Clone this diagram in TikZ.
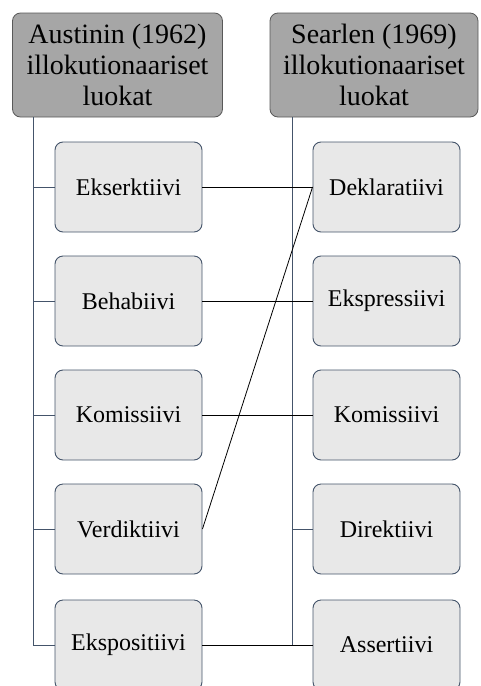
\documentclass[tikz,border=0pt]{standalone}
\usepackage{fontspec}
\setmainfont{Liberation Serif}
\begin{document}
\begin{tikzpicture}[x=1pt,y=-1pt,
  head/.style={draw=gray!70!black, fill=black!35, rounded corners=8pt, minimum width=210pt, minimum height=104pt, align=center, font=\fontsize{28}{31}\selectfont, inner sep=2pt, line width=0.8pt},
  item/.style={draw=trunkc, fill=black!9, rounded corners=8pt, minimum width=147pt, minimum height=90pt, font=\fontsize{24}{28}\selectfont, line width=0.9pt},
  trunk/.style={draw=trunkc, line width=0.9pt},
  link/.style={draw=black, line width=0.8pt}]
\definecolor{trunkc}{HTML}{44546A}
\useasboundingbox (0,0) rectangle (480,686);
\node[head] (hA) at (117.5,65) {Austinin (1962)\\illokutionaariset\\luokat};
\node[head, minimum width=208pt] (hS) at (374,65) {Searlen (1969)\\illokutionaariset\\luokat};
\node[item] (a1) at (128.5,187) {Ekserktiivi};
\node[item] (a2) at (128.5,301) {Behabiivi};
\node[item] (a3) at (128.5,415) {Komissiivi};
\node[item] (a4) at (128.5,529) {Verdiktiivi};
\node[item] (a5) at (128.5,645) {Ekspositiivi};
\node[item] (s1) at (386.5,187) {Deklaratiivi};
\node[item] (s2) at (386.5,301) {Ekspressiivi};
\node[item] (s3) at (386.5,415) {Komissiivi};
\node[item] (s4) at (386.5,529) {Direktiivi};
\node[item] (s5) at (386.5,645) {Assertiivi};
\coordinate (tA) at (33,117);
\coordinate (tS) at (292,117);
\draw[trunk] (tA) |- (a5.west);
\foreach \n in {a1,a2,a3,a4} \draw[trunk] (tA |- \n.west) -- (\n.west);
\draw[trunk] (tS) |- (s5.west);
\foreach \n in {s1,s2,s3,s4} \draw[trunk] (tS |- \n.west) -- (\n.west);
\draw[link] (a1.east) -- (s1.west);
\draw[link] (a2.east) -- (s2.west);
\draw[link] (a3.east) -- (s3.west);
\draw[link] (a4.east) -- (s1.west);
\draw[link] (a5.east) -- (s5.west);
\end{tikzpicture}
\end{document}
